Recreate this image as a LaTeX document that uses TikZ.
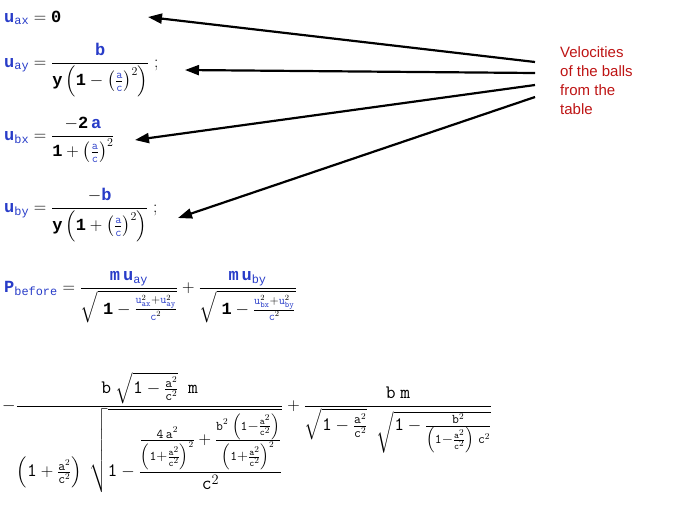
\documentclass[tikz,border=0pt]{standalone}
\usepackage{amsmath}
\usepackage{fontspec}
\setmainfont{Liberation Mono}
\setsansfont{Liberation Sans}
\usetikzlibrary{arrows.meta, positioning}
\definecolor{symb}{RGB}{40,60,200}
\definecolor{notered}{RGB}{190,20,20}
\newcommand{\vb}[1]{{\color{symb}#1}}
\newcommand{\usub}[1]{\vb{\mathbf{u}_{\mathrm{#1}}}}
\newcommand{\tl}[1]{\mathtt{#1}}

\begin{document}
\begin{tikzpicture}[x=1pt, y=-1pt,
    formula/.style={anchor=west, inner sep=0pt, font=\fontsize{17}{20}\selectfont},
    note/.style={anchor=north west, align=left, text=notered, font=\sffamily\fontsize{15}{19}\selectfont, inner sep=0pt},
    pointer/.style={-{Triangle[length=14pt, width=10pt]}, line width=2.2pt}
]
\useasboundingbox (0,0) rectangle (693,517);

% Velocities
\node (uax) [formula] at (4,18) {$\usub{ax}=\mathbf{0}$};
\node (uay) [formula] at (4,70) {$\usub{ay}=\dfrac{\vb{\mathbf{b}}}{\mathbf{y}\left(\mathbf{1}-\left(\frac{\vb{\tl{a}}}{\vb{\tl{c}}}\right)^2\right)}\;;$};
\node (ubx) [formula] at (4,140) {$\usub{bx}=\dfrac{\mathbf{-2}\,\vb{\mathbf{a}}}{\mathbf{1}+\left(\frac{\vb{\tl{a}}}{\vb{\tl{c}}}\right)^2}$};
\node (uby) [formula] at (4,215) {$\usub{by}=\dfrac{\mathbf{-}\vb{\mathbf{b}}}{\mathbf{y}\left(\mathbf{1}+\left(\frac{\vb{\tl{a}}}{\vb{\tl{c}}}\right)^2\right)}\;;$};

% Momentum
\node (pbef) [formula] at (4,297) {$\vb{\mathbf{P}_{\mathrm{before}}}=\dfrac{\vb{\mathbf{m}}\,\usub{ay}}{\sqrt{\;\mathbf{1}-\frac{\vb{\tl{u}}_{\vb{\tl{ax}}}^2+\vb{\tl{u}}_{\vb{\tl{ay}}}^2}{\vb{\tl{c}}^2}}}+\dfrac{\vb{\mathbf{m}}\,\usub{by}}{\sqrt{\;\mathbf{1}-\frac{\vb{\tl{u}}_{\vb{\tl{bx}}}^2+\vb{\tl{u}}_{\vb{\tl{by}}}^2}{\vb{\tl{c}}^2}}}$};
\node (result) [formula, font=\fontsize{19}{22}\selectfont] at (2,432) {$-\dfrac{\tl{b}\;\sqrt{\tl{1}-\frac{\tl{a}^2}{\tl{c}^2}}\;\;\tl{m}}{\left(\tl{1}+\frac{\tl{a}^2}{\tl{c}^2}\right)\;\sqrt{\tl{1}-\dfrac{\frac{\tl{4}\,\tl{a}^2}{\left(\tl{1}+\frac{\tl{a}^2}{\tl{c}^2}\right)^2}+\frac{\tl{b}^2\;\left(\tl{1}-\frac{\tl{a}^2}{\tl{c}^2}\right)}{\left(\tl{1}+\frac{\tl{a}^2}{\tl{c}^2}\right)^2}}{\tl{c}^2}}}+\dfrac{\tl{b}\;\tl{m}}{\sqrt{\tl{1}-\frac{\tl{a}^2}{\tl{c}^2}}\;\;\sqrt{\tl{1}-\frac{\tl{b}^2}{\left(\tl{1}-\frac{\tl{a}^2}{\tl{c}^2}\right)\;\tl{c}^2}}}$};

% Note and arrows
\node (label) [note] at (560,46) {Velocities\\of the balls\\from the\\table};
\coordinate (s1) at (535,62);
\coordinate (s2) at (535,73);
\coordinate (s3) at (535,85);
\coordinate (s4) at (535,97);
\coordinate (t1) at (148,17);
\coordinate (t2) at (185,70);
\coordinate (t3) at (135,140);
\coordinate (t4) at (178,218);
\draw [pointer] (s1) -- (t1);
\draw [pointer] (s2) -- (t2);
\draw [pointer] (s3) -- (t3);
\draw [pointer] (s4) -- (t4);
\end{tikzpicture}
\end{document}
